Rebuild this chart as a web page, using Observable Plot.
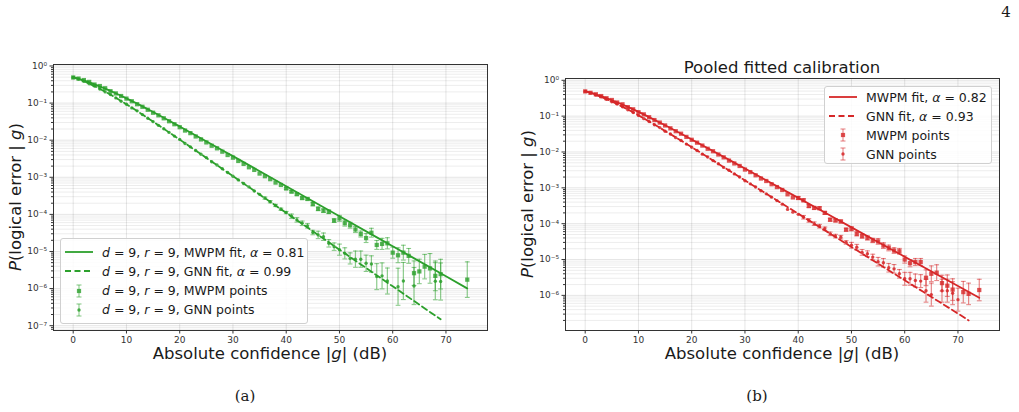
<!DOCTYPE html>
<html><head><meta charset="utf-8">
<script src="https://cdn.jsdelivr.net/npm/d3@7"></script>
<script src="https://cdn.jsdelivr.net/npm/@observablehq/plot@0.6"></script>
<style>
body{margin:0;background:#fff;font-family:"DejaVu Sans",sans-serif;}
#fig{position:relative;width:1019px;height:412px;overflow:hidden;background:#fff;}
.abs{position:absolute;white-space:nowrap;color:#1a1a1a;}
.xl{font-size:16.5px;transform:translateX(-50%);}
.yl{font-size:16.5px;transform:translate(-50%,-50%) rotate(-90deg);}
.cap{font-family:"DejaVu Serif",serif;font-size:15px;transform:translateX(-50%);}
.title{font-size:16.5px;transform:translateX(-50%);}
.leg{position:absolute;background:rgba(255,255,255,0.85);border:1px solid #d0d0d0;border-radius:3px;box-sizing:border-box;}
.row{position:absolute;left:0;height:18px;display:flex;align-items:center;font-size:12.5px;color:#1a1a1a;white-space:nowrap;}
.row svg{margin-left:3px;margin-right:8px;}
</style></head><body><div id="fig"></div>
<script>
// ---------- data ----------
// Panel (a): d=9, r=9
const gA_mwpm = d3.range(0, 70).concat([74]);
const pA_mwpm = [0.49,0.457,0.417,0.372,0.316,0.288,0.251,0.209,0.182,0.155,
 0.132,0.112,0.0933,0.0794,0.0661,0.0550,0.0468,0.0389,0.0324,0.0269,
 0.0224,0.0182,0.0155,0.0126,0.0105,0.00871,0.00708,0.00603,0.00490,0.00398,
 0.00339,0.00275,0.00229,0.00186,0.00158,0.00126,0.00107,8.9e-4,7.2e-4,6.2e-4,
 5.0e-4,4.1e-4,3.5e-4,2.75e-4,2.6e-4,1.9e-4,1.41e-4,1.26e-4,1.17e-4,6.8e-5,
 7.8e-5,5.8e-5,5.1e-5,3.9e-5,2.95e-5,2.3e-5,3.2e-5,1.5e-5,1.6e-5,1.66e-5,
 9.3e-6,7.9e-6,9.3e-6,7.6e-6,2.6e-6,2.9e-6,3.9e-6,3.5e-6,2.2e-6,2.45e-6,
 1.74e-6];
// error bar half-widths in decades
const eA_mwpm = [0,0,0,0,0,0,0,0,0,0, 0,0,0,0,0,0,0,0,0,0, 0,0,0,0,0,0,0,0,0,0, 0,0,0,0,0,0,0,0,0,0,
 0.03,0.03,0.03,0.03,0.03,0.05,0.05,0.05,0.05,0.05,
 0.08,0.08,0.08,0.08,0.08,0.12,0.12,0.12,0.15,0.15,
 0.15,0.2,0.2,0.2,0.33,0.33,0.33,0.4,0.4,0.4,
 0.48];
const gA_gnn = d3.range(0, 60).concat([61, 62, 64, 68, 69]);
const pA_gnn = [0.49,0.447,0.389,0.331,0.288,0.240,0.200,0.170,0.138,0.112,
 0.0933,0.0741,0.0617,0.0490,0.0389,0.0316,0.0251,0.0204,0.0162,0.0129,
 0.0105,0.00813,0.00661,0.00525,0.00417,0.00339,0.00263,0.00214,0.00170,0.00135,
 0.00107,8.5e-4,6.8e-4,5.5e-4,4.27e-4,3.47e-4,2.75e-4,2.19e-4,1.74e-4,1.38e-4,
 1.12e-4,8.9e-5,7.1e-5,5.75e-5,4.9e-5,3.24e-5,2.8e-5,2.5e-5,1.66e-5,1.35e-5,
 1.12e-5,8.9e-6,6.5e-6,6.2e-6,6.2e-6,4.8e-6,4.6e-6,2.1e-6,2.2e-6,1.6e-6,
 1.12e-6,1.6e-6,1.17e-6,1.58e-6,1.55e-6];
const eA_gnn = [0,0,0,0,0,0,0,0,0,0, 0,0,0,0,0,0,0,0,0,0, 0,0,0,0,0,0,0,0,0,0, 0,0,0,0,0,0,
 0.03,0.03,0.03,0.03,0.03, 0.06,0.06,0.06,0.06,0.06, 0.1,0.1,0.1,0.1,
 0.15,0.15,0.15, 0.22,0.22,0.22,0.22, 0.35,0.35,0.35, 0.5,0.5,0.5,0.5,0.5];
const fitA_mwpm_g = [0,2,4,6,8,10,12,15,20,30,40,50,60,70,74];
const fitA_mwpm_p = [0.5,0.407,0.321,0.246,0.184,0.134,0.0964,0.0574,0.0234,0.00371,5.75e-4,8.9e-5,1.38e-5,2.14e-6,1.01e-6];
const fitA_gnn_g = [0,2,4,6,8,10,12,15,20,30,40,50,60,69];
const fitA_gnn_p = [0.5,0.388,0.286,0.203,0.139,0.0929,0.0610,0.0317,0.01035,1.07e-3,1.10e-4,1.12e-5,1.15e-6,1.48e-7];

// Panel (b): pooled
const gB_mwpm = d3.range(0, 70).concat([71, 72, 74]);
const pB_mwpm = [0.49,0.447,0.407,0.363,0.316,0.282,0.240,0.214,0.178,0.155,
 0.129,0.112,0.0933,0.0776,0.0661,0.0550,0.0457,0.0380,0.0324,0.0263,
 0.0219,0.0182,0.0151,0.0123,0.0105,0.00851,0.00708,0.00575,0.00479,0.00407,
 0.00324,0.00275,0.00224,0.00182,0.00155,0.00126,0.00105,8.7e-4,6.6e-4,5.4e-4,
 5.2e-4,4.5e-4,3.1e-4,2.75e-4,2.7e-4,2.0e-4,1.29e-4,1.23e-4,1.15e-4,6.8e-5,
 7.2e-5,5.2e-5,4.5e-5,4.0e-5,3.4e-5,3.2e-5,2.45e-5,2.1e-5,1.78e-5,1.7e-5,
 1.0e-5,7.9e-6,8.5e-6,8.5e-6,3.1e-6,4.0e-6,4.3e-6,2.2e-6,1.86e-6,1.45e-6,
 1.23e-6,1.1e-6,1.41e-6];
const eB_mwpm = [0,0,0,0,0,0,0,0,0,0, 0,0,0,0,0,0,0,0,0,0, 0,0,0,0,0,0,0,0,0,0, 0,0,0,0,0,0,0,0,0,0,
 0.04,0.04,0.04,0.04,0.04,0.04,0.04,0.04,0.04,0.04,
 0.06,0.06,0.06,0.06,0.06, 0.08,0.08,0.08,0.08,0.08,
 0.1,0.1,0.1,0.1, 0.22,0.22,0.22,0.22, 0.3,0.3,0.3,0.3,0.3];
const gB_gnn = d3.range(0, 66).concat([67, 68, 69, 70]);
const pB_gnn = [0.49,0.447,0.389,0.347,0.295,0.251,0.219,0.182,0.151,0.126,
 0.105,0.0851,0.0708,0.0575,0.0479,0.0380,0.0316,0.0251,0.0209,0.0166,
 0.0135,0.0110,0.00871,0.00724,0.00575,0.00468,0.00372,0.00309,0.00245,0.00200,
 0.00158,0.00129,0.00105,8.3e-4,6.8e-4,5.5e-4,4.4e-4,3.5e-4,2.5e-4,2.1e-4,
 1.82e-4,1.51e-4,1.23e-4,1.0e-4,8.5e-5,7.2e-5,5.2e-5,4.5e-5,4.2e-5,3.0e-5,
 2.5e-5,2.2e-5,1.58e-5,1.45e-5,1.17e-5,8.7e-6,8.1e-6,5.9e-6,5.5e-6,4.0e-6,
 2.9e-6,2.9e-6,2.6e-6,2.5e-6,1.35e-6,1.05e-6,
 1.35e-6,1.35e-6,1.15e-6,7.6e-7];
const eB_gnn = [0,0,0,0,0,0,0,0,0,0, 0,0,0,0,0,0,0,0,0,0, 0,0,0,0,0,0,0,0,0,0, 0,0,0,0,0,0,0,0,0,0, 0,
 0.05,0.05,0.05,0.05,0.05,0.05,0.05,0.05,0.05,
 0.08,0.08,0.08,0.08,0.08, 0.12,0.12,0.12,0.12,0.12,
 0.18,0.18,0.18,0.18, 0.32,0.32,0.32,0.32,0.32,0.32];
const fitB_mwpm_g = [0,2,4,6,8,10,12,15,20,30,40,50,60,70,74];
const fitB_mwpm_p = [0.5,0.406,0.320,0.244,0.181,0.132,0.0940,0.0556,0.0224,0.00345,5.25e-4,7.9e-5,1.2e-5,1.82e-6,8.6e-7];
const fitB_gnn_g = [0,2,4,6,8,10,12,15,20,30,40,50,60,70,72];
const fitB_gnn_p = [0.5,0.394,0.298,0.217,0.153,0.105,0.0711,0.0387,0.0136,1.61e-3,1.9e-4,2.24e-5,2.63e-6,3.1e-7,2.0e-7];

const xTicks = [0,10,20,30,40,50,60,70];
const GREEN = "#2ca02c", RED = "#d62728";

// ---------- helpers ----------
const SUP = {"-":"\u207B","0":"\u2070","1":"\u00B9","2":"\u00B2","3":"\u00B3","4":"\u2074","5":"\u2075","6":"\u2076","7":"\u2077","8":"\u2078","9":"\u2079"};
const fmtPow = d => "10" + String(Math.round(Math.log10(d))).split("").map(c => SUP[c]).join("");
const zip = (g, p, e) => g.map((x, i) => ({g: x, p: p[i], e: e ? e[i] : 0}));

function panel(o) {
  const M = zip(o.gM, o.pM, o.eM), G = zip(o.gG, o.pG, o.eG);
  const err = M.concat(G).filter(d => d.e > 0).map(d => ({g: d.g, lo: d.p * Math.pow(10, -d.e), hi: d.p * Math.pow(10, d.e)}));
  const major = o.yTicks;
  const minor = [];
  for (let e = -8; e <= 0; e++) for (let k = 2; k <= 9; k++) {
    const v = k * Math.pow(10, e);
    if (v > o.yDomain[0] && v < o.yDomain[1]) minor.push(v);
  }
  const fm = zip(o.fitMg, o.fitMp), fg = zip(o.fitGg, o.fitGp);
  return Plot.plot({
    width: 509, height: 360,
    marginLeft: 53, marginRight: 22, marginTop: o.marginTop, marginBottom: 30,
    style: {fontFamily: "DejaVu Sans", fontSize: "9px", color: "#333", background: "transparent", overflow: "visible"},
    x: {domain: [-3.7, 77.8]},
    y: {type: "log", domain: o.yDomain},
    marks: [
      Plot.ruleY(minor, {stroke: "#000", strokeOpacity: 0.075}),
      Plot.ruleY(major, {stroke: "#000", strokeOpacity: 0.1}),
      Plot.ruleX(xTicks, {stroke: "#000", strokeOpacity: 0.1}),
      Plot.axisX({ticks: xTicks, tickSize: 3.5, tickPadding: 3, tickFormat: d => d, label: null}),
      Plot.axisY({ticks: major, tickSize: 3.5, tickPadding: 3, tickFormat: fmtPow, label: null}),
      Plot.axisY({ticks: minor, tickSize: 2, tickFormat: () => "", label: null}),
      Plot.line(fm, {x: "g", y: "p", stroke: o.color, strokeWidth: 1.8, curve: "monotone-x"}),
      Plot.line(fg, {x: "g", y: "p", stroke: o.color, strokeWidth: 1.8, strokeDasharray: "6,3.5", curve: "monotone-x"}),
      Plot.ruleX(err, {x: "g", y1: "lo", y2: "hi", stroke: o.color, strokeOpacity: 0.55, strokeWidth: 1.2}),
      Plot.link(err, {x1: d => d.g - 0.45, x2: d => d.g + 0.45, y1: "lo", y2: "lo", stroke: o.color, strokeOpacity: 0.55, strokeWidth: 1.1}),
      Plot.link(err, {x1: d => d.g - 0.45, x2: d => d.g + 0.45, y1: "hi", y2: "hi", stroke: o.color, strokeOpacity: 0.55, strokeWidth: 1.1}),
      Plot.dot(M, {x: "g", y: "p", symbol: "square", r: 2.4, fill: o.color, fillOpacity: 0.8, stroke: "none"}),
      Plot.dot(G, {x: "g", y: "p", r: 1.7, fill: o.color, fillOpacity: 0.85, stroke: "none"}),
      Plot.frame({stroke: "#333", strokeWidth: 1})
    ]
  });
}

const fig = document.getElementById("fig");
function place(el, left, top) { el.style.position = "absolute"; el.style.left = left + "px"; el.style.top = top + "px"; fig.appendChild(el); return el; }
function txt(cls, html, left, top) { const d = document.createElement("div"); d.className = "abs " + cls; d.innerHTML = html; return place(d, left, top); }

const plotA = panel({gM: gA_mwpm, pM: pA_mwpm, eM: eA_mwpm, gG: gA_gnn, pG: pA_gnn, eG: eA_gnn,
  fitMg: fitA_mwpm_g, fitMp: fitA_mwpm_p, fitGg: fitA_gnn_g, fitGp: fitA_gnn_p,
  color: GREEN, yDomain: [Math.pow(10, -7.13), Math.pow(10, 0.04)], yTicks: [1,1e-1,1e-2,1e-3,1e-4,1e-5,1e-6,1e-7], marginTop: 64});
place(plotA, 0, 0);
const plotB = panel({gM: gB_mwpm, pM: pB_mwpm, eM: eB_mwpm, gG: gB_gnn, pG: pB_gnn, eG: eB_gnn,
  fitMg: fitB_mwpm_g, fitMp: fitB_mwpm_p, fitGg: fitB_gnn_g, fitGp: fitB_gnn_p,
  color: RED, yDomain: [Math.pow(10, -6.98), Math.pow(10, 0.05)], yTicks: [1,1e-1,1e-2,1e-3,1e-4,1e-5,1e-6], marginTop: 78});
place(plotB, 512, 0);

// axis labels, title, captions
const ylab = "<i>P</i>(logical error | <i>g</i>)";
const xlab = "Absolute confidence |<i>g</i>| (dB)";
txt("yl", ylab, 15, 197);
txt("yl", ylab, 527, 204);
txt("xl", xlab, 270, 344);
txt("xl", xlab, 782, 344);
txt("title", "Pooled fitted calibration", 782, 58);
txt("cap", "(a)", 245, 387);
txt("cap", "(b)", 757, 387);
txt("cap", "4", 1006, 3);

// legends
function sample(kind, color) {
  const w = 30, h = 18;
  let s = `<svg width="${w}" height="${h}">`;
  if (kind === "solid") s += `<line x1="1" x2="${w-1}" y1="9" y2="9" stroke="${color}" stroke-width="1.8"/>`;
  else if (kind === "dash") s += `<line x1="1" x2="${w-1}" y1="9" y2="9" stroke="${color}" stroke-width="1.8" stroke-dasharray="6,3.5"/>`;
  else {
    s += `<g stroke="${color}" stroke-opacity="0.55" stroke-width="1.1"><line x1="15" x2="15" y1="3" y2="15"/><line x1="12.5" x2="17.5" y1="3" y2="3"/><line x1="12.5" x2="17.5" y1="15" y2="15"/></g>`;
    if (kind === "sq") s += `<rect x="12.9" y="6.9" width="4.2" height="4.2" fill="${color}" fill-opacity="0.8"/>`;
    else s += `<circle cx="15" cy="9" r="1.7" fill="${color}" fill-opacity="0.85"/>`;
  }
  return s + "</svg>";
}
function legend(left, top, w, h, rows, color, y0, dy) {
  const box = document.createElement("div");
  box.className = "leg";
  box.style.left = left + "px"; box.style.top = top + "px"; box.style.width = w + "px"; box.style.height = h + "px";
  rows.forEach(([kind, label], i) => {
    const r = document.createElement("div");
    r.className = "row";
    r.style.top = (y0 + i * dy - 9) + "px";
    r.innerHTML = sample(kind, color) + `<span>${label}</span>`;
    box.appendChild(r);
  });
  fig.appendChild(box);
}
legend(60, 238, 248, 86, [
  ["solid", "<i>d</i> = 9, <i>r</i> = 9, MWPM fit, <i>α</i> = 0.81"],
  ["dash", "<i>d</i> = 9, <i>r</i> = 9, GNN fit, <i>α</i> = 0.99"],
  ["sq", "<i>d</i> = 9, <i>r</i> = 9, MWPM points"],
  ["dot", "<i>d</i> = 9, <i>r</i> = 9, GNN points"]
], GREEN, 13, 19.3);
legend(824, 86, 168, 78, [
  ["solid", "MWPM fit, <i>α</i> = 0.82"],
  ["dash", "GNN fit, <i>α</i> = 0.93"],
  ["sq", "MWPM points"],
  ["dot", "GNN points"]
], RED, 10, 19);
</script></body></html>
